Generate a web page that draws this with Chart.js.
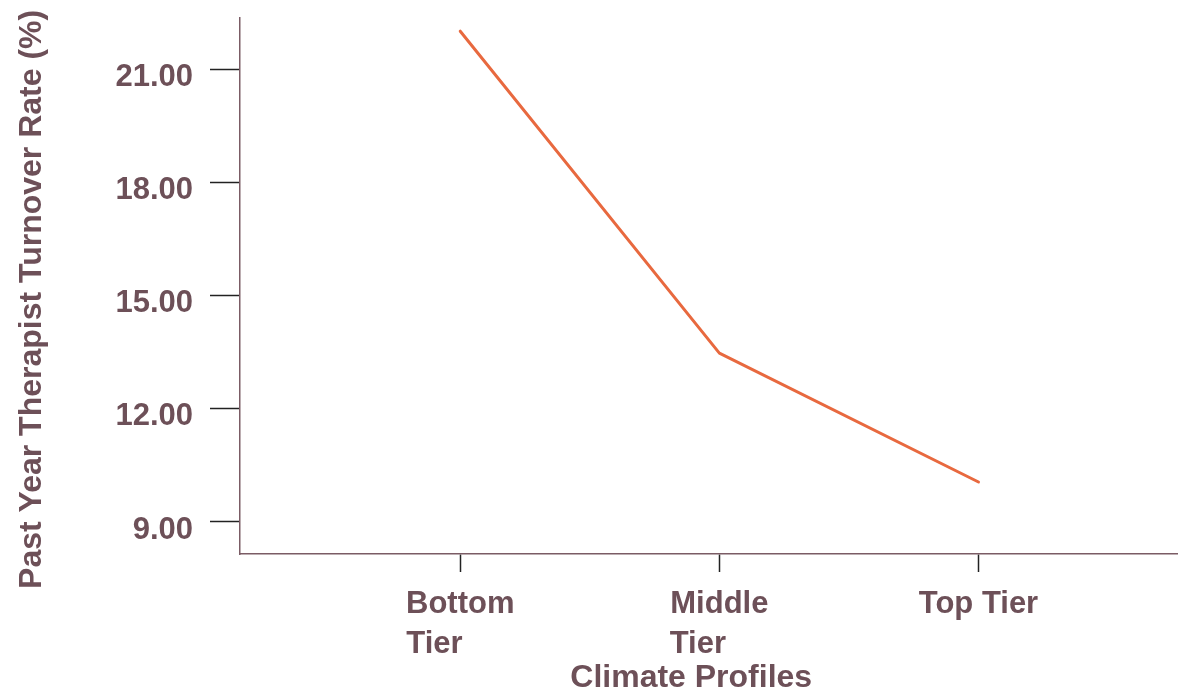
<!DOCTYPE html>
<html>
<head>
<meta charset="utf-8">
<script src="https://cdn.jsdelivr.net/npm/chart.js@4/dist/chart.umd.min.js"></script>
<style>
  html, body { margin: 0; padding: 0; background: #ffffff; }
  #wrap { width: 1178px; height: 697px; position: relative; }
</style>
</head>
<body>
<div id="wrap"><canvas id="c" width="1178" height="697"></canvas></div>
<script>
const categories = [["Bottom", "Tier"], ["Middle", "Tier"], "Top Tier"];
const turnoverRate = [22.02, 13.48, 10.06];
const yTickValues = [9, 12, 15, 18, 21];
const yTitle = "Past Year Therapist Turnover Rate (%)";
const xTitle = "Climate Profiles";

const textColor = "#6d5058";
const axisColor = "#7b5c65";
const tickColor = "#222222";
const lineColor = "#e8693f";
const fontFamily = "'Liberation Sans', Arial, Helvetica, sans-serif";

const points = turnoverRate.map((v, i) => ({ x: i + 1, y: v }));

// left-align the lines of a wrapped label inside its centred block
const mctx = document.createElement("canvas").getContext("2d");
mctx.font = "bold 31px " + fontFamily;
function leftAlignLines(label) {
  if (!Array.isArray(label)) return label;
  const maxW = Math.max(...label.map(l => mctx.measureText(l).width));
  const sp = mctx.measureText(" ").width;
  return label.map(l => {
    let s = l;
    while (mctx.measureText(s).width + sp / 2 < maxW) s += " ";
    return s;
  });
}

new Chart(document.getElementById("c"), {
  type: "line",
  data: {
    datasets: [{
      data: points,
      borderColor: lineColor,
      borderWidth: 3,
      borderCapStyle: "round",
      borderJoinStyle: "round",
      pointRadius: 0,
      pointHoverRadius: 0,
      tension: 0,
      fill: false
    }]
  },
  options: {
    responsive: false,
    animation: false,
    events: [],
    layout: { padding: { top: 18, right: 0, bottom: 0, left: 0 } },
    plugins: { legend: { display: false }, tooltip: { enabled: false } },
    scales: {
      x: {
        type: "linear",
        min: 0.15,
        max: 3.77,
        afterBuildTicks: (scale) => {
          scale.ticks = categories.map((c, i) => ({ value: i + 1 }));
        },
        afterFit: (scale) => { scale.height = 143; scale.paddingRight = 0; },
        border: { display: true, color: axisColor, width: 1.5 },
        grid: {
          display: true,
          drawOnChartArea: false,
          drawTicks: true,
          tickLength: 18,
          tickColor: tickColor,
          tickWidth: 1.5
        },
        ticks: {
          autoSkip: false,
          maxRotation: 0,
          minRotation: 0,
          padding: 12,
          color: textColor,
          font: { family: fontFamily, size: 31, weight: "bold", lineHeight: 1.3 },
          callback: (value) => leftAlignLines(categories[Math.round(value) - 1])
        },
        title: {
          display: true,
          text: xTitle + "    ",
          color: textColor,
          padding: { top: 0, bottom: 0 },
          font: { family: fontFamily, size: 32, weight: "bold", lineHeight: 1.2 }
        }
      },
      y: {
        type: "linear",
        min: 8.15,
        max: 22.37,
        afterBuildTicks: (scale) => {
          scale.ticks = yTickValues.map(v => ({ value: v }));
        },
        afterFit: (scale) => {
          scale.width = 240;
          scale.paddingTop = 0;
          scale.paddingBottom = 0;
        },
        border: { display: true, color: axisColor, width: 1.5 },
        grid: {
          display: true,
          drawOnChartArea: false,
          drawTicks: true,
          tickLength: 30,
          tickColor: tickColor,
          tickWidth: 1.5
        },
        ticks: {
          padding: 17,
          labelOffset: 8,
          color: textColor,
          font: { family: fontFamily, size: 31, weight: "bold" },
          callback: (value) => Number(value).toFixed(2)
        },
        title: {
          display: true,
          text: yTitle + "   ",
          color: textColor,
          padding: { top: 13, bottom: 0 },
          font: { family: fontFamily, size: 32, weight: "bold", lineHeight: 1.2 }
        }
      }
    }
  }
});
</script>
</body>
</html>
